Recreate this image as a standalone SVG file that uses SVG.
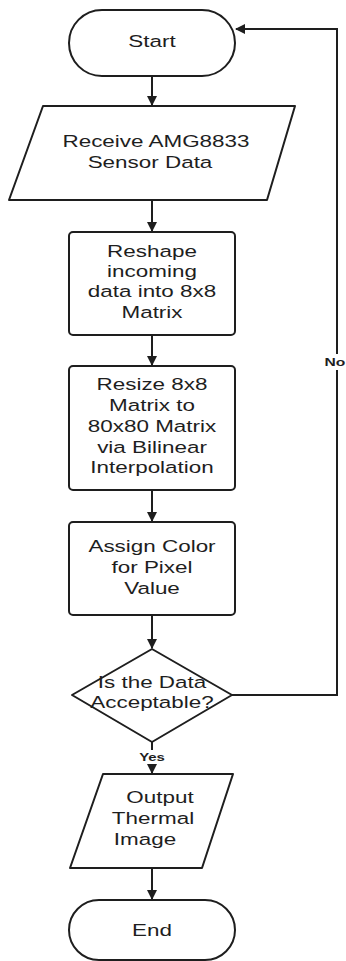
<svg xmlns="http://www.w3.org/2000/svg" width="346" height="961" viewBox="0 0 346 961">
<style>
.s{fill:#fff;stroke:#1e1e1e;stroke-width:2;stroke-linejoin:round}
.t{font-family:"Liberation Sans",Arial,sans-serif;font-size:16.5px;fill:#1e1e1e;text-anchor:middle}
.l{font-family:"Liberation Sans",Arial,sans-serif;font-size:11.5px;font-weight:bold;fill:#1e1e1e;text-anchor:middle}
.c{fill:none;stroke:#1e1e1e;stroke-width:2}
</style>
<defs>
<marker id="ah" markerWidth="10" markerHeight="10" refX="9" refY="5" orient="auto" markerUnits="userSpaceOnUse">
<path d="M0,0 L10,5 L0,10 Z" fill="#1e1e1e"/>
</marker>
</defs>
<rect width="346" height="961" fill="#fff"/>
<g id="connectors">
<path class="c" d="M152,76 V105" marker-end="url(#ah)"/>
<path class="c" d="M152,200 V231" marker-end="url(#ah)"/>
<path class="c" d="M152,335 V365" marker-end="url(#ah)"/>
<path class="c" d="M152,490 V521" marker-end="url(#ah)"/>
<path class="c" d="M152,615 V648" marker-end="url(#ah)"/>
<path class="c" d="M152,742 V750"/>
<path class="c" d="M152,764 V773" marker-end="url(#ah)"/>
<path class="c" d="M152,868 V899" marker-end="url(#ah)"/>
<path class="c" d="M232,695 H337 V29 H236" marker-end="url(#ah)"/>
<rect x="324" y="354" width="22" height="16" fill="#fff"/>
<text class="l" transform="translate(335,366) scale(1.36,1)">No</text>
<text class="l" transform="translate(152,761) scale(1.3,1)">Yes</text>
</g>
<g id="start">
<rect class="s" x="69" y="10" width="166" height="66" rx="33"/>
<text class="t" transform="translate(152,47) scale(1.36,1)">Start</text>
</g>
<g id="receive">
<polygon class="s" points="43,106 295,106 267,200 9,200"/>
<text class="t" transform="translate(156,147) scale(1.36,1)">Receive AMG8833</text>
<text class="t" transform="translate(150,168) scale(1.36,1)">Sensor Data</text>
</g>
<g id="reshape">
<rect class="s" x="69" y="232" width="166" height="103" rx="4"/>
<text class="t" transform="translate(152,257) scale(1.36,1)">Reshape</text>
<text class="t" transform="translate(152,277) scale(1.36,1)">incoming</text>
<text class="t" transform="translate(152,297) scale(1.36,1)">data into 8x8</text>
<text class="t" transform="translate(152,318) scale(1.36,1)">Matrix</text>
</g>
<g id="resize">
<rect class="s" x="69" y="366" width="166" height="124" rx="4"/>
<text class="t" transform="translate(152,390) scale(1.36,1)">Resize 8x8</text>
<text class="t" transform="translate(152,411) scale(1.36,1)">Matrix to</text>
<text class="t" transform="translate(152,432) scale(1.36,1)">80x80 Matrix</text>
<text class="t" transform="translate(152,453) scale(1.36,1)">via Bilinear</text>
<text class="t" transform="translate(152,473) scale(1.36,1)">Interpolation</text>
</g>
<g id="assign">
<rect class="s" x="69" y="522" width="166" height="93" rx="4"/>
<text class="t" transform="translate(152,552) scale(1.36,1)">Assign Color</text>
<text class="t" transform="translate(152,573) scale(1.36,1)">for Pixel</text>
<text class="t" transform="translate(152,594) scale(1.36,1)">Value</text>
</g>
<g id="decision">
<polygon class="s" points="152,649 232,695 152,742 72,695"/>
<text class="t" transform="translate(152,688) scale(1.36,1)">Is the Data</text>
<text class="t" transform="translate(152,708) scale(1.36,1)">Acceptable?</text>
</g>
<g id="output">
<polygon class="s" points="103,774 233,774 202,868 70,868"/>
<text class="t" transform="translate(160,803) scale(1.36,1)">Output</text>
<text class="t" transform="translate(153,824) scale(1.36,1)">Thermal</text>
<text class="t" transform="translate(145,845) scale(1.36,1)">Image</text>
</g>
<g id="end">
<rect class="s" x="69" y="900" width="166" height="60" rx="30"/>
<text class="t" transform="translate(152,936) scale(1.36,1)">End</text>
</g>
</svg>
